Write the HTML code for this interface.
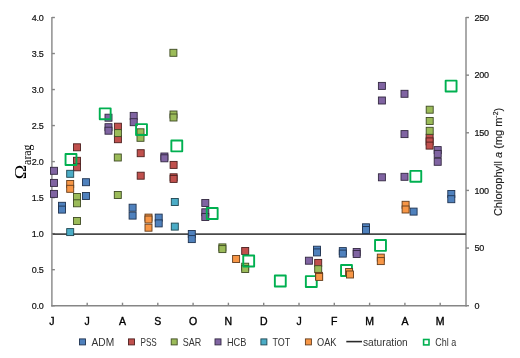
<!DOCTYPE html><html><head><meta charset="utf-8"><style>html,body{margin:0;padding:0;background:#fff;}svg{display:block;will-change:transform;}text{font-family:"Liberation Sans",sans-serif;}</style></head><body>
<svg width="520" height="358" viewBox="0 0 520 358">
<rect width="520" height="358" fill="#fff"/>
<g stroke="#868686" stroke-width="1.4" fill="none">
<line x1="51.9" y1="17.0" x2="51.9" y2="306.4"/>
<line x1="51.199999999999996" y1="305.7" x2="466.7" y2="305.7"/>
<line x1="466.0" y1="17.0" x2="466.0" y2="306.4"/>
<line x1="51.9" y1="305.70" x2="54.9" y2="305.70"/>
<line x1="51.9" y1="269.68" x2="54.9" y2="269.68"/>
<line x1="51.9" y1="233.65" x2="54.9" y2="233.65"/>
<line x1="51.9" y1="197.62" x2="54.9" y2="197.62"/>
<line x1="51.9" y1="161.60" x2="54.9" y2="161.60"/>
<line x1="51.9" y1="125.57" x2="54.9" y2="125.57"/>
<line x1="51.9" y1="89.55" x2="54.9" y2="89.55"/>
<line x1="51.9" y1="53.53" x2="54.9" y2="53.53"/>
<line x1="51.9" y1="17.50" x2="54.9" y2="17.50"/>
<line x1="466.0" y1="305.70" x2="469.0" y2="305.70"/>
<line x1="466.0" y1="248.06" x2="469.0" y2="248.06"/>
<line x1="466.0" y1="190.42" x2="469.0" y2="190.42"/>
<line x1="466.0" y1="132.78" x2="469.0" y2="132.78"/>
<line x1="466.0" y1="75.14" x2="469.0" y2="75.14"/>
<line x1="466.0" y1="17.50" x2="469.0" y2="17.50"/>
<line x1="87.20" y1="305.7" x2="87.20" y2="302.7"/>
<line x1="122.50" y1="305.7" x2="122.50" y2="302.7"/>
<line x1="157.80" y1="305.7" x2="157.80" y2="302.7"/>
<line x1="193.10" y1="305.7" x2="193.10" y2="302.7"/>
<line x1="228.40" y1="305.7" x2="228.40" y2="302.7"/>
<line x1="263.70" y1="305.7" x2="263.70" y2="302.7"/>
<line x1="299.00" y1="305.7" x2="299.00" y2="302.7"/>
<line x1="334.30" y1="305.7" x2="334.30" y2="302.7"/>
<line x1="369.60" y1="305.7" x2="369.60" y2="302.7"/>
<line x1="404.90" y1="305.7" x2="404.90" y2="302.7"/>
<line x1="440.20" y1="305.7" x2="440.20" y2="302.7"/>
</g>
<line x1="52.6" y1="234.1" x2="466.0" y2="234.1" stroke="#4a4a4a" stroke-width="1.9"/>
<g fill="#4F81BD" stroke="#1f3350" stroke-width="0.9">
<rect x="58.50" y="202.30" width="7.0" height="7.0"/>
<rect x="58.50" y="206.10" width="7.0" height="7.0"/>
<rect x="82.50" y="178.70" width="7.0" height="7.0"/>
<rect x="82.50" y="192.50" width="7.0" height="7.0"/>
<rect x="129.10" y="204.20" width="7.0" height="7.0"/>
<rect x="129.10" y="212.10" width="7.0" height="7.0"/>
<rect x="155.20" y="214.10" width="7.0" height="7.0"/>
<rect x="155.20" y="219.90" width="7.0" height="7.0"/>
<rect x="188.30" y="230.50" width="7.0" height="7.0"/>
<rect x="188.30" y="235.60" width="7.0" height="7.0"/>
<rect x="313.50" y="246.20" width="7.0" height="7.0"/>
<rect x="313.50" y="248.90" width="7.0" height="7.0"/>
<rect x="339.30" y="247.60" width="7.0" height="7.0"/>
<rect x="339.30" y="250.10" width="7.0" height="7.0"/>
<rect x="362.50" y="223.80" width="7.0" height="7.0"/>
<rect x="362.50" y="226.50" width="7.0" height="7.0"/>
<rect x="410.10" y="208.10" width="7.0" height="7.0"/>
<rect x="447.80" y="190.50" width="7.0" height="7.0"/>
<rect x="447.80" y="195.70" width="7.0" height="7.0"/>
</g>
<g fill="#C0504D" stroke="#4d1f1e" stroke-width="0.9">
<rect x="73.50" y="143.80" width="7.0" height="7.0"/>
<rect x="73.50" y="157.30" width="7.0" height="7.0"/>
<rect x="73.50" y="163.80" width="7.0" height="7.0"/>
<rect x="114.40" y="123.20" width="7.0" height="7.0"/>
<rect x="114.40" y="135.70" width="7.0" height="7.0"/>
<rect x="137.20" y="149.70" width="7.0" height="7.0"/>
<rect x="137.20" y="172.20" width="7.0" height="7.0"/>
<rect x="170.10" y="161.40" width="7.0" height="7.0"/>
<rect x="170.10" y="173.80" width="7.0" height="7.0"/>
<rect x="170.10" y="175.40" width="7.0" height="7.0"/>
<rect x="241.70" y="247.50" width="7.0" height="7.0"/>
<rect x="314.70" y="259.40" width="7.0" height="7.0"/>
<rect x="426.10" y="134.30" width="7.0" height="7.0"/>
<rect x="426.10" y="137.90" width="7.0" height="7.0"/>
<rect x="426.10" y="142.10" width="7.0" height="7.0"/>
</g>
<g fill="#9BBB59" stroke="#3e4b24" stroke-width="0.9">
<rect x="73.50" y="193.50" width="7.0" height="7.0"/>
<rect x="73.50" y="199.80" width="7.0" height="7.0"/>
<rect x="73.50" y="217.50" width="7.0" height="7.0"/>
<rect x="114.40" y="129.60" width="7.0" height="7.0"/>
<rect x="114.30" y="154.00" width="7.0" height="7.0"/>
<rect x="114.30" y="191.50" width="7.0" height="7.0"/>
<rect x="137.00" y="128.80" width="7.0" height="7.0"/>
<rect x="137.00" y="134.30" width="7.0" height="7.0"/>
<rect x="169.90" y="49.30" width="7.0" height="7.0"/>
<rect x="170.00" y="111.00" width="7.0" height="7.0"/>
<rect x="170.00" y="114.00" width="7.0" height="7.0"/>
<rect x="218.90" y="243.90" width="7.0" height="7.0"/>
<rect x="218.90" y="245.60" width="7.0" height="7.0"/>
<rect x="241.70" y="263.20" width="7.0" height="7.0"/>
<rect x="241.70" y="265.50" width="7.0" height="7.0"/>
<rect x="314.70" y="265.70" width="7.0" height="7.0"/>
<rect x="426.20" y="106.20" width="7.0" height="7.0"/>
<rect x="426.20" y="117.50" width="7.0" height="7.0"/>
<rect x="426.20" y="127.30" width="7.0" height="7.0"/>
</g>
<g fill="#8064A2" stroke="#332841" stroke-width="0.9">
<rect x="50.50" y="167.30" width="7.0" height="7.0"/>
<rect x="50.50" y="179.40" width="7.0" height="7.0"/>
<rect x="50.50" y="190.40" width="7.0" height="7.0"/>
<rect x="105.00" y="114.20" width="7.0" height="7.0"/>
<rect x="105.00" y="123.70" width="7.0" height="7.0"/>
<rect x="105.00" y="127.20" width="7.0" height="7.0"/>
<rect x="130.20" y="112.40" width="7.0" height="7.0"/>
<rect x="130.20" y="118.70" width="7.0" height="7.0"/>
<rect x="160.90" y="153.00" width="7.0" height="7.0"/>
<rect x="160.90" y="154.80" width="7.0" height="7.0"/>
<rect x="201.80" y="199.50" width="7.0" height="7.0"/>
<rect x="201.80" y="208.80" width="7.0" height="7.0"/>
<rect x="201.80" y="213.50" width="7.0" height="7.0"/>
<rect x="305.40" y="257.20" width="7.0" height="7.0"/>
<rect x="353.20" y="248.50" width="7.0" height="7.0"/>
<rect x="353.20" y="250.50" width="7.0" height="7.0"/>
<rect x="378.40" y="82.40" width="7.0" height="7.0"/>
<rect x="378.40" y="97.00" width="7.0" height="7.0"/>
<rect x="378.40" y="173.80" width="7.0" height="7.0"/>
<rect x="401.00" y="90.30" width="7.0" height="7.0"/>
<rect x="401.00" y="130.60" width="7.0" height="7.0"/>
<rect x="401.00" y="173.30" width="7.0" height="7.0"/>
<rect x="434.20" y="146.60" width="7.0" height="7.0"/>
<rect x="434.20" y="150.40" width="7.0" height="7.0"/>
<rect x="434.20" y="158.30" width="7.0" height="7.0"/>
</g>
<g fill="#4BACC6" stroke="#1e4550" stroke-width="0.9">
<rect x="66.70" y="170.30" width="7.0" height="7.0"/>
<rect x="66.70" y="228.60" width="7.0" height="7.0"/>
<rect x="171.30" y="198.50" width="7.0" height="7.0"/>
<rect x="171.30" y="223.10" width="7.0" height="7.0"/>
</g>
<g fill="none" stroke="#00B050" stroke-width="1.9" stroke-linejoin="round">
<rect x="65.55" y="154.05" width="10.9" height="10.9"/>
<rect x="99.75" y="108.35" width="10.9" height="10.9"/>
<rect x="136.05" y="124.15" width="10.9" height="10.9"/>
<rect x="171.35" y="140.45" width="10.9" height="10.9"/>
<rect x="206.75" y="208.05" width="10.9" height="10.9"/>
<rect x="243.25" y="255.55" width="10.9" height="10.9"/>
<rect x="274.85" y="275.55" width="10.9" height="10.9"/>
<rect x="305.85" y="276.15" width="10.9" height="10.9"/>
<rect x="341.05" y="265.05" width="10.9" height="10.9"/>
<rect x="375.05" y="239.95" width="10.9" height="10.9"/>
<rect x="410.35" y="170.85" width="10.9" height="10.9"/>
<rect x="445.65" y="80.65" width="10.9" height="10.9"/>
</g>
<g fill="#F79646" stroke="#633c1c" stroke-width="0.9">
<rect x="66.70" y="180.50" width="7.0" height="7.0"/>
<rect x="66.70" y="185.30" width="7.0" height="7.0"/>
<rect x="145.00" y="214.10" width="7.0" height="7.0"/>
<rect x="145.00" y="216.00" width="7.0" height="7.0"/>
<rect x="145.00" y="224.20" width="7.0" height="7.0"/>
<rect x="232.60" y="255.50" width="7.0" height="7.0"/>
<rect x="315.50" y="272.40" width="7.0" height="7.0"/>
<rect x="315.70" y="273.40" width="7.0" height="7.0"/>
<rect x="345.60" y="268.50" width="7.0" height="7.0"/>
<rect x="346.50" y="271.00" width="7.0" height="7.0"/>
<rect x="377.30" y="254.10" width="7.0" height="7.0"/>
<rect x="377.30" y="257.60" width="7.0" height="7.0"/>
<rect x="402.10" y="201.30" width="7.0" height="7.0"/>
<rect x="402.10" y="206.00" width="7.0" height="7.0"/>
</g>
<g font-size="9" letter-spacing="-0.25" text-anchor="end" fill="#111" stroke="#111" stroke-width="0.2">
<text x="43.6" y="308.90">0.0</text>
<text x="43.6" y="272.88">0.5</text>
<text x="43.6" y="236.85">1.0</text>
<text x="43.6" y="200.82">1.5</text>
<text x="43.6" y="164.80">2.0</text>
<text x="43.6" y="128.77">2.5</text>
<text x="43.6" y="92.75">3.0</text>
<text x="43.6" y="56.73">3.5</text>
<text x="43.6" y="20.70">4.0</text>
</g>
<g font-size="9" letter-spacing="-0.25" text-anchor="start" fill="#111" stroke="#111" stroke-width="0.2">
<text x="474.5" y="308.90">0</text>
<text x="474.5" y="251.26">50</text>
<text x="474.5" y="193.62">100</text>
<text x="474.5" y="135.98">150</text>
<text x="474.5" y="78.34">200</text>
<text x="474.5" y="20.70">250</text>
</g>
<g font-size="10.5" text-anchor="middle" stroke="#000" stroke-width="0.35">
<text x="51.90" y="325">J</text>
<text x="87.20" y="325">J</text>
<text x="122.50" y="325">A</text>
<text x="157.80" y="325">S</text>
<text x="193.10" y="325">O</text>
<text x="228.40" y="325">N</text>
<text x="263.70" y="325">D</text>
<text x="299.00" y="325">J</text>
<text x="334.30" y="325">F</text>
<text x="369.60" y="325">M</text>
<text x="404.90" y="325">A</text>
<text x="440.20" y="325">M</text>
</g>
<text transform="translate(26.1,179.2) rotate(-90) scale(1.09,0.95)" style="font-family:'Liberation Serif',serif" font-size="18">&#937;</text>
<text transform="translate(31.3,164.9) rotate(-90)" style="font-family:'Liberation Serif',serif" font-size="11.9">arag</text>
<text transform="translate(501.9,161.9) rotate(-90)" font-size="11" text-anchor="middle" fill="#222" stroke="#222" stroke-width="0.15">Chlorophyll <tspan font-style="italic">a</tspan> (mg m<tspan font-size="7" dy="-3.5">-2</tspan><tspan dy="3.5">)</tspan></text>
<g font-size="10.2" fill="#333">
<rect x="79.50" y="338.90" width="6" height="6" fill="#4F81BD" stroke="#1f3350" stroke-width="0.9"/>
<text transform="translate(91.5,345.90) scale(1.0,1)">ADM</text>
<rect x="128.50" y="338.90" width="6" height="6" fill="#C0504D" stroke="#4d1f1e" stroke-width="0.9"/>
<text transform="translate(140.5,345.90) scale(0.8,1)">PSS</text>
<rect x="171.20" y="338.90" width="6" height="6" fill="#9BBB59" stroke="#3e4b24" stroke-width="0.9"/>
<text transform="translate(182.8,345.90) scale(0.88,1)">SAR</text>
<rect x="215.00" y="338.90" width="6" height="6" fill="#8064A2" stroke="#332841" stroke-width="0.9"/>
<text transform="translate(226.9,345.90) scale(0.905,1)">HCB</text>
<rect x="260.90" y="338.90" width="6" height="6" fill="#4BACC6" stroke="#1e4550" stroke-width="0.9"/>
<text transform="translate(272.5,345.90) scale(0.88,1)">TOT</text>
<rect x="305.40" y="338.90" width="6" height="6" fill="#F79646" stroke="#633c1c" stroke-width="0.9"/>
<text transform="translate(317,345.90) scale(0.905,1)">OAK</text>
<line x1="346.3" y1="341.59999999999997" x2="362" y2="341.59999999999997" stroke="#2a2a2a" stroke-width="1.6"/>
<text x="363" y="345.90">saturation</text>
<rect x="423.6" y="339.5" width="5.4" height="5.4" fill="none" stroke="#00B050" stroke-width="1.6"/>
<text transform="translate(435.2,345.90) scale(0.88,1)">Chl a</text>
</g>
</svg></body></html>
